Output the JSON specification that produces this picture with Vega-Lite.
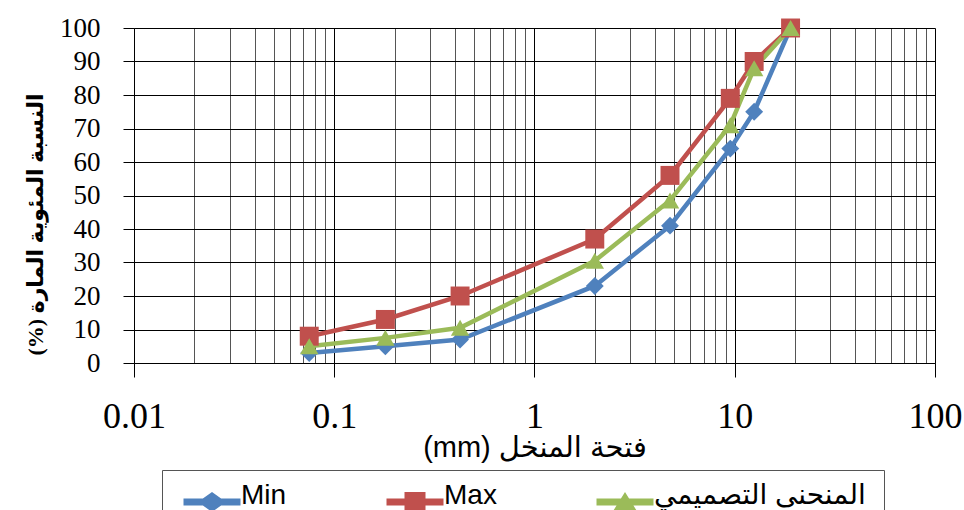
{
  "$schema": "https://vega.github.io/schema/vega-lite/v6.json",
  "width": 801,
  "height": 335,
  "autosize": {"type": "none"},
  "padding": {"left": 134, "top": 28, "right": 29, "bottom": 147},
  "background": "white",
  "config": {
    "view": {"stroke": null},
    "axis": {"domainColor": "#000", "tickColor": "#000", "labelColor": "#000", "titleColor": "#000"}
  },
  "data": {
    "values": [
      {"size": 0.075, "pct": 3, "series": "Min"},
      {"size": 0.18, "pct": 5, "series": "Min"},
      {"size": 0.425, "pct": 7, "series": "Min"},
      {"size": 2, "pct": 23, "series": "Min"},
      {"size": 4.75, "pct": 41, "series": "Min"},
      {"size": 9.5, "pct": 64, "series": "Min"},
      {"size": 12.5, "pct": 75, "series": "Min"},
      {"size": 19, "pct": 100, "series": "Min"},
      {"size": 0.075, "pct": 8, "series": "Max"},
      {"size": 0.18, "pct": 13, "series": "Max"},
      {"size": 0.425, "pct": 20, "series": "Max"},
      {"size": 2, "pct": 37, "series": "Max"},
      {"size": 4.75, "pct": 56, "series": "Max"},
      {"size": 9.5, "pct": 79, "series": "Max"},
      {"size": 12.5, "pct": 90, "series": "Max"},
      {"size": 19, "pct": 100, "series": "Max"},
      {"size": 0.075, "pct": 5, "series": "المنحنى التصميمي"},
      {"size": 0.18, "pct": 7.5, "series": "المنحنى التصميمي"},
      {"size": 0.425, "pct": 10.5, "series": "المنحنى التصميمي"},
      {"size": 2, "pct": 30.5, "series": "المنحنى التصميمي"},
      {"size": 4.75, "pct": 48.5, "series": "المنحنى التصميمي"},
      {"size": 9.5, "pct": 71, "series": "المنحنى التصميمي"},
      {"size": 12.5, "pct": 88, "series": "المنحنى التصميمي"},
      {"size": 19, "pct": 100, "series": "المنحنى التصميمي"}
    ]
  },
  "encoding": {
    "x": {
      "field": "size", "type": "quantitative",
      "scale": {"type": "log", "domain": [0.01, 100], "nice": false},
      "axis": {
        "title": "(mm) فتحة المنخل",
        "titleFont": "Liberation Sans, DejaVu Sans",
        "titleFontSize": 29, "titleFontWeight": "normal", "titlePadding": -1,
        "values": [0.01,0.02,0.03,0.04,0.05,0.06,0.07,0.08,0.09,0.1,0.2,0.3,0.4,0.5,0.6,0.7,0.8,0.9,1,2,3,4,5,6,7,8,9,10,20,30,40,50,60,70,80,90,100],
        "labelExpr": "(datum.value == 0.01 || datum.value == 0.1 || datum.value == 1 || datum.value == 10 || datum.value == 100) ? format(datum.value, '~g') : ''",
        "labelFont": "Liberation Serif", "labelFontSize": 36, "labelPadding": 22,
        "labelOverlap": false, "labelFlush": false,
        "tickSize": 14,
        "tickOpacity": {"condition": {"test": "datum.value == 0.01 || datum.value == 0.1 || datum.value == 1 || datum.value == 10 || datum.value == 100", "value": 1}, "value": 0},
        "grid": true,
        "gridColor": {"condition": {"test": "datum.value == 0.01 || datum.value == 0.1 || datum.value == 1 || datum.value == 10 || datum.value == 100", "value": "#000"}, "value": "#555"},
        "gridOpacity": 1, "gridWidth": 1
      }
    },
    "y": {
      "field": "pct", "type": "quantitative",
      "scale": {"domain": [0, 100], "nice": false},
      "axis": {
        "title": "(%) النسبة المئوية المارة",
        "titleFont": "Liberation Serif, DejaVu Sans", "titleFontSize": 22, "titleFontWeight": "bold",
        "titlePadding": 12, "titleY": 196,
        "values": [0,10,20,30,40,50,60,70,80,90,100],
        "labelFont": "Liberation Serif", "labelFontSize": 27, "labelPadding": 23,
        "tickSize": 11,
        "grid": true, "gridColor": "#000", "gridOpacity": 1
      }
    }
  },
  "layer": [
    {
      "mark": {"type": "line", "strokeWidth": 4.5},
      "encoding": {
        "color": {
          "field": "series", "type": "nominal", "title": null,
          "scale": {"domain": ["Min", "Max", "المنحنى التصميمي"], "range": ["#4F81BD", "#C0504D", "#9BBB59"]},
          "legend": {
            "orient": "none", "direction": "horizontal",
            "legendX": 28, "legendY": 442,
            "padding": 18,
            "strokeColor": "#555",
            "columnPadding": 96,
            "symbolSize": 400,
            "symbolStrokeWidth": 0,
            "symbolOffset": 18,
            "labelOffset": 15,
            "labelFont": "Liberation Sans, DejaVu Sans",
            "labelFontSize": 28, "labelColor": "#000", "labelLimit": 400,
            "encode": {
              "labels": {"update": {"dy": {"value": -6}}},
              "symbols": {
                "update": {
                  "fill": {"scale": "color", "field": "value"},
                  "opacity": {"value": 1},
                  "shape": {"signal": "datum.value === 'Min' ? 'M-2.85,-0.35L-0.91,-0.35L0,-1L0.91,-0.35L2.85,-0.35L2.85,0.35L0.91,0.35L0,1L-0.91,0.35L-2.85,0.35Z' : datum.value === 'Max' ? 'M-2.85,-0.35L-1.05,-0.35L-1.05,-1L1.05,-1L1.05,-0.35L2.85,-0.35L2.85,0.35L1.05,0.35L1.05,1L-1.05,1L-1.05,0.35L-2.85,0.35Z' : 'M-2.85,-0.35L-0.406,-0.35L0,-1L0.406,-0.35L2.85,-0.35L2.85,0.35L0.844,0.35L1.25,1L-1.25,1L-0.844,0.35L-2.85,0.35Z'"}
                }
              }
            }
          }
        }
      }
    },
    {
      "transform": [{"filter": "datum.series === 'Min'"}],
      "mark": {"type": "point", "shape": "diamond", "filled": true, "opacity": 1, "size": 320},
      "encoding": {"color": {"field": "series", "type": "nominal", "title": null}}
    },
    {
      "transform": [{"filter": "datum.series === 'Max'"}],
      "mark": {"type": "point", "shape": "square", "filled": true, "opacity": 1, "size": 360},
      "encoding": {"color": {"field": "series", "type": "nominal", "title": null}}
    },
    {
      "transform": [{"filter": "datum.series === 'المنحنى التصميمي'"}],
      "mark": {"type": "point", "shape": "triangle-up", "filled": true, "opacity": 1, "size": 340},
      "encoding": {"color": {"field": "series", "type": "nominal", "title": null}}
    }
  ]
}
